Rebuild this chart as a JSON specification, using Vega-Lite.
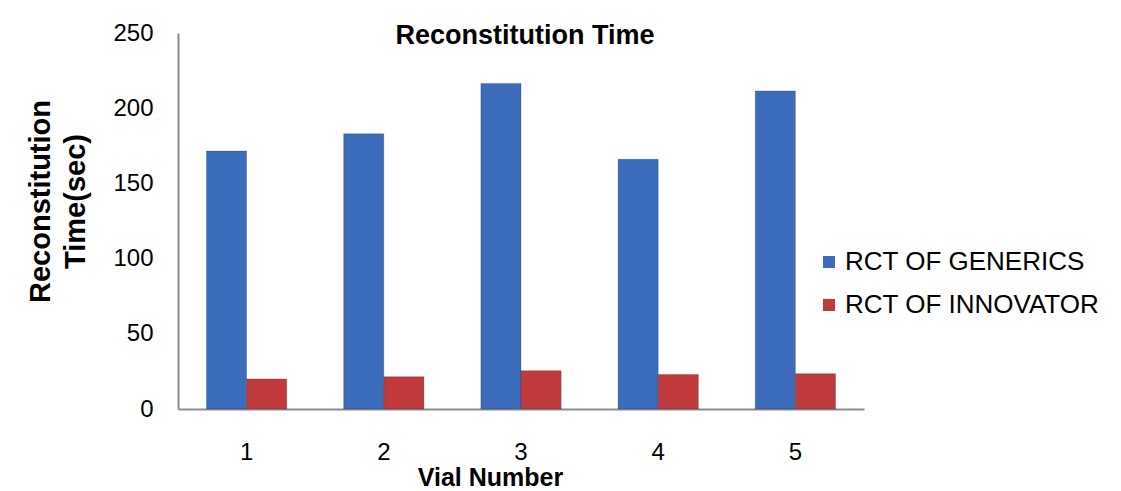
{
  "$schema": "https://vega.github.io/schema/vega-lite/v6.json",
  "width": 686,
  "height": 376,
  "autosize": {"type": "none"},
  "padding": {"left": 178, "top": 33, "right": 257, "bottom": 82},
  "background": "white",
  "title": {
    "text": "Reconstitution Time",
    "font": "Liberation Sans",
    "fontSize": 27,
    "fontWeight": "bold",
    "color": "black",
    "anchor": "middle",
    "offset": -29,
    "dx": 4
  },
  "data": {
    "values": [
      {"vial": "1", "series": "RCT OF GENERICS", "time": 171.5},
      {"vial": "2", "series": "RCT OF GENERICS", "time": 183},
      {"vial": "3", "series": "RCT OF GENERICS", "time": 216.5},
      {"vial": "4", "series": "RCT OF GENERICS", "time": 166},
      {"vial": "5", "series": "RCT OF GENERICS", "time": 211.5},
      {"vial": "1", "series": "RCT OF INNOVATOR", "time": 20},
      {"vial": "2", "series": "RCT OF INNOVATOR", "time": 21.5},
      {"vial": "3", "series": "RCT OF INNOVATOR", "time": 25.5},
      {"vial": "4", "series": "RCT OF INNOVATOR", "time": 23},
      {"vial": "5", "series": "RCT OF INNOVATOR", "time": 23.5}
    ]
  },
  "mark": {"type": "bar", "stroke": "#2a2a2a", "strokeWidth": 0.5, "strokeOpacity": 0.5},
  "encoding": {
    "x": {
      "field": "vial",
      "type": "nominal",
      "scale": {"paddingInner": 0.415, "paddingOuter": 0.2075},
      "axis": {
        "title": "Vial Number",
        "titleFont": "Liberation Sans",
        "titleFontSize": 25,
        "titleFontWeight": "bold",
        "titleColor": "black",
        "titleX": 312,
        "titleY": 56,
        "titleAlign": "center",
        "titleBaseline": "top",
        "labelFont": "Liberation Sans",
        "labelFontSize": 24,
        "labelColor": "black",
        "labelAngle": 0,
        "labelPadding": 31,
        "ticks": false,
        "domainColor": "#8c8c8c",
        "domainWidth": 2
      }
    },
    "xOffset": {"field": "series", "type": "nominal", "scale": {"paddingInner": 0}},
    "y": {
      "field": "time",
      "type": "quantitative",
      "scale": {"domain": [0, 250]},
      "axis": {
        "title": ["Reconstitution", "Time(sec)"],
        "titleFont": "Liberation Sans",
        "titleFontSize": 29,
        "titleFontWeight": "bold",
        "titleColor": "black",
        "titleLineHeight": 35,
        "titleX": -152,
        "titleY": 168,
        "titleAngle": -90,
        "titleAlign": "center",
        "titleBaseline": "top",
        "labelFont": "Liberation Sans",
        "labelFontSize": 24,
        "labelColor": "black",
        "labelPadding": 25,
        "values": [0, 50, 100, 150, 200, 250],
        "ticks": false,
        "grid": false,
        "domainColor": "#8c8c8c",
        "domainWidth": 2
      }
    },
    "color": {
      "field": "series",
      "type": "nominal",
      "scale": {"range": ["#3c6cbc", "#c0393b"]},
      "legend": {
        "title": null,
        "orient": "none",
        "legendX": 638,
        "legendY": 216,
        "symbolType": "square",
        "symbolSize": 144,
        "symbolStrokeWidth": 0,
        "labelFont": "Liberation Sans",
        "labelFontSize": 26,
        "labelColor": "black",
        "labelOffset": 3,
        "rowPadding": 17,
        "labelLimit": 400
      }
    }
  },
  "config": {"view": {"stroke": null}}
}
